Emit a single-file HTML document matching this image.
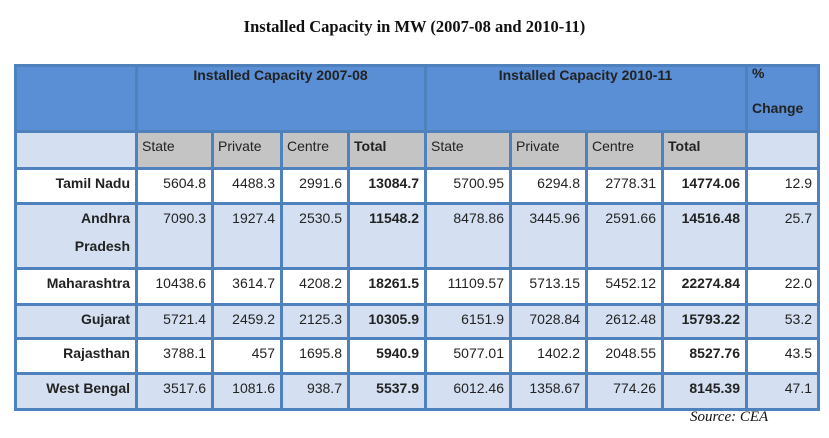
<!DOCTYPE html>
<html><head><meta charset="utf-8"><style>
body{margin:0;width:829px;height:438px;background:#fff;position:relative;overflow:hidden;font-family:"Liberation Sans",sans-serif;}
.c{position:absolute;box-sizing:border-box;font-size:14px;color:#222;padding:0 6px;line-height:28px;white-space:pre-line;}
.vl,.hl{position:absolute;background:#4f81bd;}
</style></head><body>
<div style="position:absolute;left:0;width:829px;top:17px;text-align:center;font:bold 16.5px 'Liberation Serif',serif;color:#111;">Installed Capacity in MW (2007-08 and 2010-11)</div>
<div id="tbl"></div>
<div style="position:absolute;left:690px;top:409px;font:italic 15px 'Liberation Serif',serif;color:#111;">Source: CEA</div>
<script>
const states=["Tamil Nadu","Andhra\nPradesh","Maharashtra","Gujarat","Rajasthan","West Bengal"];
const state0708=["5604.8","7090.3","10438.6","5721.4","3788.1","3517.6"];
const private0708=["4488.3","1927.4","3614.7","2459.2","457","1081.6"];
const centre0708=["2991.6","2530.5","4208.2","2125.3","1695.8","938.7"];
const total0708=["13084.7","11548.2","18261.5","10305.9","5940.9","5537.9"];
const state1011=["5700.95","8478.86","11109.57","6151.9","5077.01","6012.46"];
const private1011=["6294.8","3445.96","5713.15","7028.84","1402.2","1358.67"];
const centre1011=["2778.31","2591.66","5452.12","2612.48","2048.55","774.26"];
const total1011=["14774.06","14516.48","22274.84","15793.22","8527.76","8145.39"];
const pctChange=["12.9","25.7","22.0","53.2","43.5","47.1"];

const T=document.getElementById('tbl');
const xs=[15,136,212,281,348,425,510,586,662,746,818];
const ys=[65,131,168,203,268,304,338,373,409];
function cell(x0,x1,y0,y1,bg,text,opts){
  const d=document.createElement('div');d.className='c';
  d.style.left=x0+'px';d.style.width=(x1-x0)+'px';d.style.top=y0+'px';d.style.height=(y1-y0)+'px';
  d.style.background=bg;
  if(opts&&opts.align)d.style.textAlign=opts.align;
  if(opts&&opts.bold)d.style.fontWeight='bold';
  if(opts&&opts.pt!==undefined)d.style.paddingTop=opts.pt+'px';
  d.textContent=text;
  
  
  T.appendChild(d);return d;
}
const HB='#5a8fd6',LB='#d4e0f1',GR='#c4c4c4';
cell(xs[0],xs[1],ys[0],ys[1],HB,'',{name:'header-blank'});
cell(xs[1],xs[5],ys[0],ys[1],HB,'Installed Capacity 2007-08',{align:'center',bold:true,name:'header-2007-08',pt:1}).style.lineHeight='18px';
cell(xs[5],xs[9],ys[0],ys[1],HB,'Installed Capacity 2010-11',{align:'center',bold:true,name:'header-2010-11',pt:1}).style.lineHeight='18px';
const pc=cell(xs[9],xs[10],ys[0],ys[1],HB,'%\nChange',{bold:true,name:'header-pct-change',pt:1});
pc.style.lineHeight='35px';pc.style.marginTop='0';
pc.style.clipPath='inset(0)';
pc.style.paddingTop='0';pc.style.textIndent='0';
pc.innerHTML='<div style="position:relative;top:-9px">%<br>Change</div>';
const sub=["State","Private","Centre","Total","State","Private","Centre","Total"];
cell(xs[0],xs[1],ys[1],ys[2],LB,'',{name:'subheader-blank'});
for(let i=0;i<8;i++)cell(xs[i+1],xs[i+2],ys[1],ys[2],GR,sub[i],{bold:sub[i]==='Total',name:'subheader-'+sub[i].toLowerCase(),pt:1});
cell(xs[9],xs[10],ys[1],ys[2],LB,'',{name:'subheader-pct-blank'});
const cols=[state0708,private0708,centre0708,total0708,state1011,private1011,centre1011,total1011,pctChange];
for(let r=0;r<states.length;r++){
  const bg=r%2?LB:'#fff';const y0=ys[r+2],y1=ys[r+3];
  cell(xs[0],xs[1],y0,y1,bg,states[r],{align:'right',bold:true,name:'row-label',pt:1});
  for(let c=0;c<9;c++)cell(xs[c+1],xs[c+2],y0,y1,bg,cols[c][r],{align:'right',bold:c===3||c===7,name:'value-cell',pt:1});
}
const fullV=[0,1,5,9,10];
xs.forEach((x,i)=>{const l=document.createElement('div');l.className='vl';
  const top=fullV.includes(i)?ys[0]:ys[1];
  l.style.left=(x-1.5)+'px';l.style.width='3px';l.style.top=(top-1.5)+'px';l.style.height=(ys[ys.length-1]-top+3)+'px';
  
  
  T.appendChild(l);});
for(const y of ys){const l=document.createElement('div');l.className='hl';
  l.style.top=(y-1.5)+'px';l.style.height='3px';l.style.left=(xs[0]-1.5)+'px';l.style.width=(xs[xs.length-1]-xs[0]+3)+'px';
  
  
  T.appendChild(l);}
</script>
</body></html>
